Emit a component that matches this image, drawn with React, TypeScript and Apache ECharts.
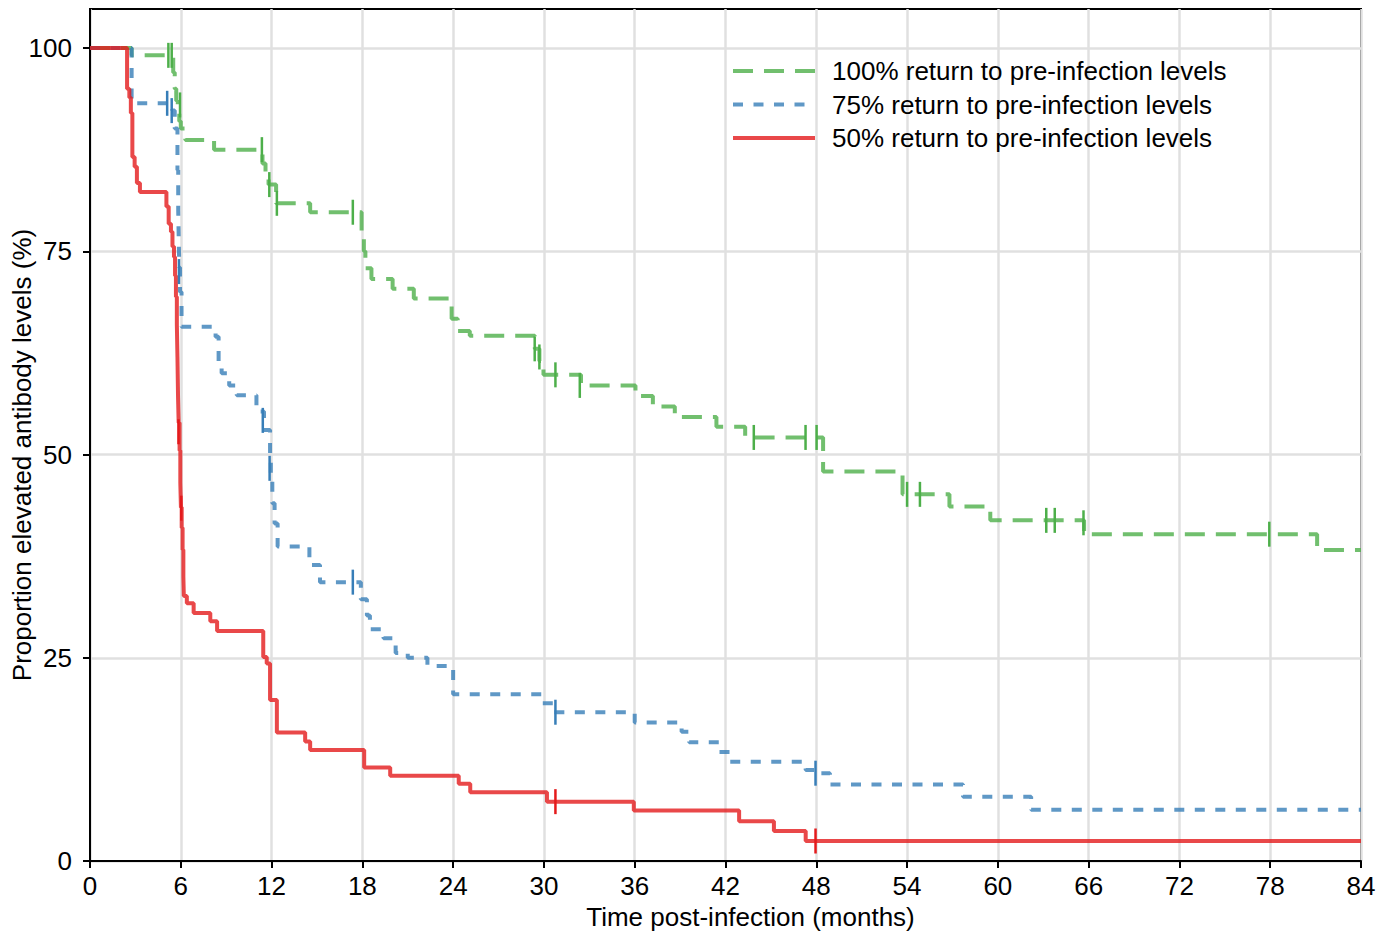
import React, { useEffect, useRef } from 'react';
import * as echarts from 'echarts';

const seriesNames = [
  '100% return to pre-infection levels',
  '75% return to pre-infection levels',
  '50% return to pre-infection levels',
];
const seriesColors = ['#4daf4a', '#377eb8', '#e41a1c'];
const xAxisTitle = 'Time post-infection (months)';
const yAxisTitle = 'Proportion elevated antibody levels (%)';
const yTickValues = [0, 25, 50, 75, 100];

// Kaplan-Meier step curves: [months, percent]
const curve100: [number, number][] = [
  [0, 100], [2.75, 99.1], [5.5, 97], [5.6, 95], [5.7, 93.5], [5.8, 92.4], [5.9, 91], [6.0, 90.1],
  [6.3, 88.7], [8.2, 87.5], [11.4, 85.8], [11.6, 84.5], [11.8, 83.2], [12.3, 80.9], [14.55, 79.8],
  [17.95, 77.5], [18.1, 75.0], [18.2, 72.9], [18.6, 71.6], [20.0, 70.4], [21.4, 69.2], [23.9, 66.7],
  [24.3, 65.2], [25.1, 64.6], [29.4, 63.0], [29.7, 61.5], [29.97, 59.8], [32.45, 58.5], [36.05, 57.2],
  [37.2, 55.9], [38.65, 54.6], [41.4, 53.4], [43.3, 52.1], [48.45, 47.9], [53.7, 45.1], [56.8, 43.6],
  [59.5, 41.9], [65.7, 40.2], [81.1, 38.25], [84, 38.25],
];
const censor100: [number, number][] = [
  [5.18, 99.1], [5.4, 99.1], [5.95, 93], [11.36, 87.5], [11.85, 83.2], [12.35, 80.9], [17.37, 79.8],
  [29.39, 63.0], [29.7, 62.0], [30.76, 59.8], [32.37, 58.5], [43.87, 52.1], [47.29, 52.1], [48.02, 52.1],
  [54.0, 45.1], [54.85, 45.1], [63.2, 41.9], [63.76, 41.9], [65.66, 41.6], [77.94, 40.2],
];

const curve75: [number, number][] = [
  [0, 100], [2.75, 93.2], [5.45, 92.3], [5.6, 90.1], [5.78, 85], [5.83, 80], [5.87, 76], [5.9, 73],
  [5.95, 70], [6.05, 65.7], [8.3, 64.5], [8.5, 61], [8.7, 60.0], [9.2, 58.5], [9.7, 57.3], [11.0, 55.3],
  [11.5, 53.0], [11.9, 50], [11.95, 47], [12.05, 44], [12.2, 41.5], [12.4, 38.7], [14.5, 36.4],
  [15.2, 34.3], [17.9, 32.2], [18.3, 30.2], [18.5, 28.5], [19.4, 27.4], [20.2, 25.6], [21.0, 25.0],
  [22.3, 24.0], [24.0, 20.5], [29.9, 19.4], [30.6, 18.3], [36.0, 17.05], [39.1, 15.9], [39.6, 14.6],
  [41.6, 13.4], [42.3, 12.2], [47.3, 11.2], [48.3, 10.8], [48.9, 9.4], [57.7, 7.9], [62.2, 6.3], [84, 6.3],
];
const censor75: [number, number][] = [
  [5.1, 93.2], [5.4, 92.3], [5.88, 72.5], [11.42, 54.2], [11.87, 48.3], [17.37, 34.3], [30.76, 18.3],
  [47.95, 10.8],
];

const curve50: [number, number][] = [
  [0, 100], [2.45, 95.0], [2.6, 93.9], [2.7, 92.0], [2.8, 86.6], [2.95, 85.4], [3.1, 83.4], [3.3, 82.3],
  [5.05, 80.5], [5.2, 78.4], [5.35, 77.4], [5.45, 75.6], [5.55, 74.3], [5.62, 72], [5.68, 69.4],
  [5.74, 66], [5.78, 62], [5.82, 57], [5.86, 53.9], [5.92, 50.5], [5.97, 46.5], [6.01, 43.5], [6.06, 41],
  [6.12, 38.3], [6.17, 35], [6.2, 32.6], [6.4, 31.7], [6.85, 30.5], [7.95, 29.5], [8.4, 28.3],
  [11.45, 25.1], [11.68, 24.3], [11.9, 19.8], [12.35, 15.8], [14.22, 14.7], [14.55, 13.65],
  [18.12, 11.5], [19.84, 10.5], [24.37, 9.5], [25.13, 8.45], [30.2, 7.3], [35.94, 6.2], [42.9, 4.9],
  [45.2, 3.7], [47.3, 2.46], [84, 2.46],
];
const censor50: [number, number][] = [
  [5.85, 52.8], [6.03, 43.4], [30.76, 7.3], [47.95, 2.46],
];

const curves = [curve100, curve75, curve50];
const censors = [censor100, censor75, censor50];
const dashes: any[] = [[20, 11], [10, 10.5], 'solid'];

const FONT = '"Liberation Sans", Arial, Helvetica, sans-serif';

export default function App() {
  const ref = useRef<HTMLDivElement>(null);
  useEffect(() => {
    if (!ref.current) return;
    const chart = echarts.init(ref.current, undefined, { renderer: 'svg' });
    const lineSeries = curves.map((data, i) => ({
      type: 'line',
      name: seriesNames[i],
      data,
      step: 'end',
      symbol: 'none',
      showSymbol: false,
      color: seriesColors[i],
      lineStyle: { color: seriesColors[i], width: 4, type: dashes[i], opacity: 0.8, cap: 'butt' },
      z: 2,
    }));
    const censorSeries = censors.map((data, i) => ({
      type: 'scatter',
      name: 'censored ' + i,
      data,
      symbol: 'rect',
      symbolSize: [2.5, 25],
      itemStyle: { color: seriesColors[i], opacity: 1 },
      silent: true,
      z: 3,
    }));
    chart.setOption({
      animation: false,
      backgroundColor: '#ffffff',
      textStyle: { fontFamily: FONT },
      grid: {
        left: 90, top: 9, width: 1271, height: 852,
        show: true, borderColor: '#000', borderWidth: 2, backgroundColor: 'transparent',
        outerBoundsMode: 'none',
      },
      legend: {
        data: seriesNames,
        orient: 'vertical',
        left: 726,
        top: 53,
        itemWidth: 82,
        itemHeight: 14,
        itemGap: 7.5,
        itemStyle: { opacity: 0 },
        lineStyle: { width: 4 },
        textStyle: { fontSize: 26, color: '#000', fontFamily: FONT, lineHeight: 26, padding: [0, 0, 0, 12] },
      },
      xAxis: {
        type: 'value',
        min: 0,
        max: 84,
        interval: 6,
        name: xAxisTitle,
        nameLocation: 'middle',
        nameGap: 43,
        nameMoveOverlap: false,
        nameTextStyle: { fontSize: 26, color: '#000', fontFamily: FONT, padding: [0, 0, 0, 50] },
        axisLine: { show: true, onZero: false, lineStyle: { color: '#000', width: 2 } },
        axisTick: { show: true, length: 7, lineStyle: { color: '#000', width: 2 } },
        axisLabel: { fontSize: 26, color: '#000', fontFamily: FONT, margin: 12 },
        splitLine: { show: true, lineStyle: { color: '#e0e0e0', width: 2.5 } },
      },
      yAxis: {
        type: 'value',
        min: 0,
        max: 104.8,
        interval: 25,
        name: yAxisTitle,
        nameLocation: 'middle',
        nameGap: 55,
        nameMoveOverlap: false,
        nameTextStyle: { fontSize: 26, color: '#000', fontFamily: FONT, padding: [0, 40, 0, 0] },
        axisLine: { show: true, onZero: false, lineStyle: { color: '#000', width: 2 } },
        axisTick: { show: true, length: 7, lineStyle: { color: '#000', width: 2 }, customValues: yTickValues },
        axisLabel: {
          fontSize: 26, color: '#000', fontFamily: FONT, margin: 18, customValues: yTickValues,
        },
        splitLine: { show: true, lineStyle: { color: '#e0e0e0', width: 2.5 } },
      },
      series: [...lineSeries, ...censorSeries],
    });
    return () => chart.dispose();
  }, []);
  return (
    <div
      ref={ref}
      style={{ position: 'fixed', left: 0, top: 0, width: 1391, height: 936, background: '#fff' }}
    />
  );
}
